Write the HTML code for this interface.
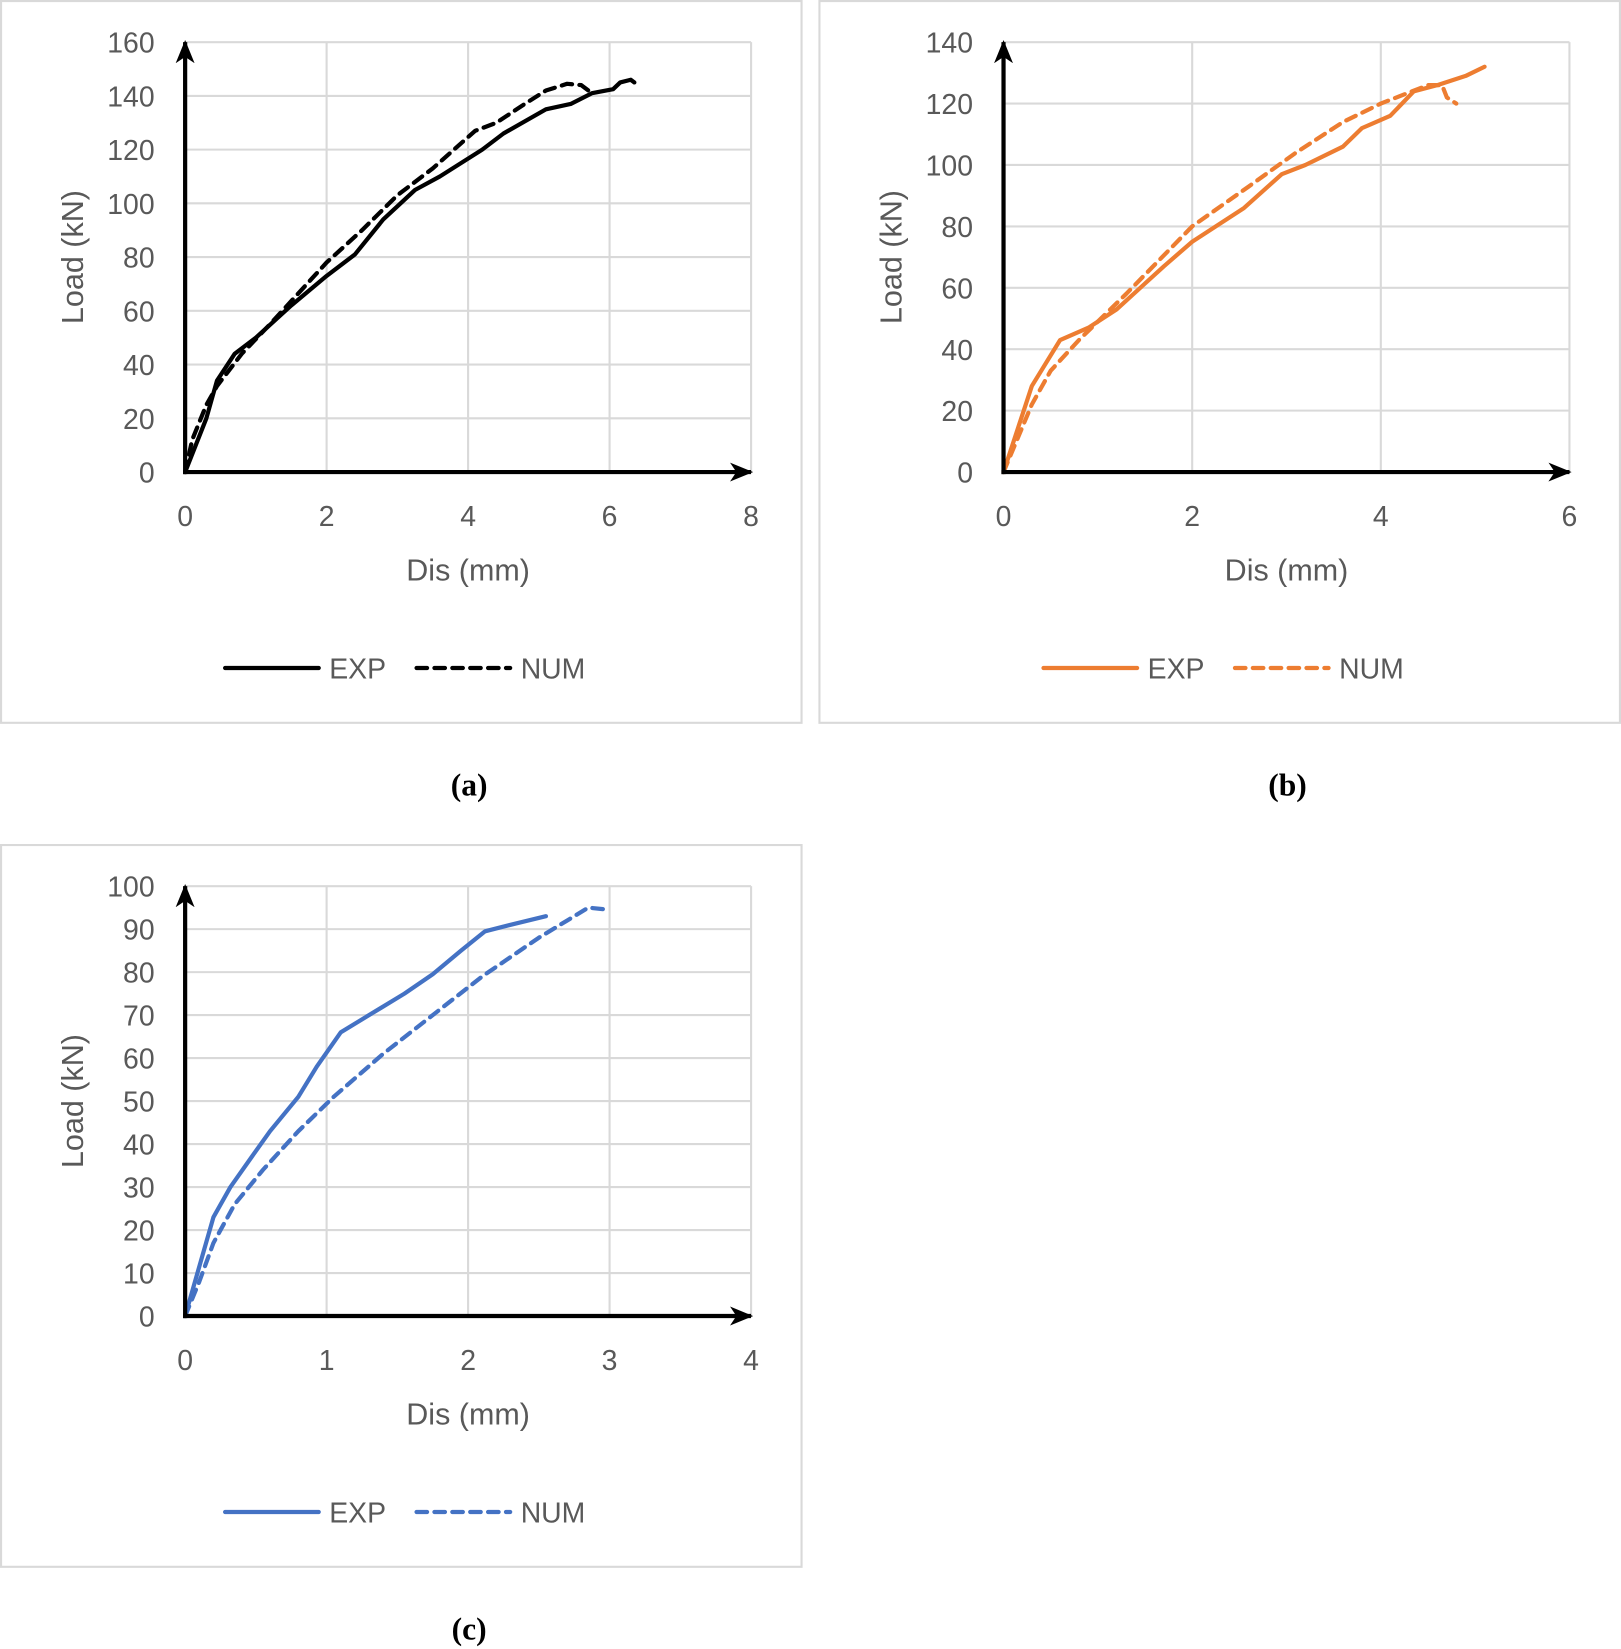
<!DOCTYPE html>
<html><head><meta charset="utf-8"><style>
html,body{margin:0;padding:0;background:#fff}
svg{display:block}
text{font-family:"Liberation Sans",sans-serif}
text.cap{font-family:"Liberation Serif",serif;font-weight:bold}
</style></head><body>
<svg id="fig" width="1621" height="1649" viewBox="0 0 1541 1565" preserveAspectRatio="none">
<defs>
<marker id="arr" markerWidth="22" markerHeight="18" refX="20" refY="9" orient="auto" markerUnits="userSpaceOnUse" viewBox="0 0 22 18"><path d="M0,0 L22,9 L0,18 L6,9 Z" fill="#000"/></marker>
</defs>
</svg>
<script>
const aExpX=[0,0.15,0.3,0.45,0.7,1,1.5,2,2.4,2.8,3.25,3.6,4.2,4.5,5.1,5.45,5.75,6.05,6.15,6.3,6.35];
const aExpY=[0,10,20,34,44,50,62,73,81,94,105,110,120,126,135,137,141,142.5,145,146,145];
const aNumX=[0,0.1,0.3,0.45,0.8,1.2,2,2.5,3,3.5,4.1,4.4,4.8,5.1,5.4,5.6,5.7];
const aNumY=[0,12,25,32,44,55,78,90,103,113,127,130,137,142,144.5,144,142];
const bExpX=[0,0.3,0.6,0.9,1.2,1.7,2,2.55,2.95,3.2,3.6,3.8,4.1,4.35,4.6,4.9,5.1];
const bExpY=[0,28,43,47,53,67,75,86,97,100,106,112,116,124,126,129,132];
const bNumX=[0,0.3,0.5,0.8,1.3,2,2.6,3.1,3.6,4,4.5,4.65,4.7,4.8];
const bNumY=[0,22,33,43,58,80,93,104,114,120,126,126,122,120];
const cExpX=[0,0.2,0.32,0.47,0.6,0.8,0.93,1.1,1.3,1.55,1.75,1.95,2.12,2.3,2.55];
const cExpY=[0,23,30,37,43,51,58,66,70,75,79.5,85,89.5,91,93];
const cNumX=[0,0.1,0.2,0.35,0.55,0.8,1.05,1.4,1.75,2.1,2.5,2.7,2.85,3];
const cNumY=[0,8,17,26,34,43,51,61,70,79,88,92,95,94.5];
const aXTicks=[0,2,4,6,8], aYTicks=[0,20,40,60,80,100,120,140,160];
const bXTicks=[0,2,4,6], bYTicks=[0,20,40,60,80,100,120,140];
const cXTicks=[0,1,2,3,4], cYTicks=[0,10,20,30,40,50,60,70,80,90,100];

const NS="http://www.w3.org/2000/svg";
const svg=document.getElementById('fig');
function mk(tag,attrs,parent,txt){const e=document.createElementNS(NS,tag);for(const k in attrs)e.setAttribute(k,attrs[k]);if(txt!==undefined)e.textContent=txt;(parent||svg).appendChild(e);return e;}

function chart(id,ox,oy,xT,yT,series,color,caption){
  const g=mk('g',{});
  
  
  const box=mk('rect',{x:ox+1,y:oy+1,width:761,height:685,fill:'#fff',stroke:'#d9d9d9','stroke-width':2},g);
  
  
  const x0=ox+176,x1=ox+714,y0=oy+448,y1=oy+40;
  const xmax=xT[xT.length-1],ymax=yT[yT.length-1];
  const sx=v=>x0+(x1-x0)*v/xmax, sy=v=>y0-(y0-y1)*v/ymax;
  xT.forEach(t=>{
    if(t>0){const l=mk('line',{x1:sx(t),x2:sx(t),y1:y0,y2:y1,stroke:'#d9d9d9','stroke-width':2},g);
    
    }
    const tx=mk('text',{x:sx(t),y:y0+51,'text-anchor':'middle','font-size':27,fill:'#595959'},g,String(t));
    
    
  });
  yT.forEach(t=>{
    if(t>0){const l=mk('line',{x1:x0,x2:x1,y1:sy(t),y2:sy(t),stroke:'#d9d9d9','stroke-width':2},g);
    
    }
    const tx=mk('text',{x:x0-29,y:sy(t)+10,'text-anchor':'end','font-size':27,fill:'#595959'},g,String(t));
    
    
  });
  series.forEach(s=>{
    const pts=s.x.map((v,i)=>sx(v)+','+sy(s.y[i])).join(' ');
    const p=mk('polyline',{points:pts,fill:'none',stroke:color,'stroke-width':4,'stroke-linejoin':'round','stroke-linecap':'round','stroke-dasharray':s.dash?'10,7':'none'},g);
    
    
  });
  const ya=mk('line',{x1:x0,y1:y0+2,x2:x0,y2:y1,stroke:'#000','stroke-width':4,'marker-end':'url(#arr)'},g);
  
  
  const xa=mk('line',{x1:x0-2,y1:y0,x2:x1,y2:y0,stroke:'#000','stroke-width':4,'marker-end':'url(#arr)'},g);
  
  
  const xt=mk('text',{x:ox+445,y:oy+551,'text-anchor':'middle','font-size':29,fill:'#595959'},g,'Dis (mm)');
  
  
  const yt=mk('text',{x:0,y:0,'text-anchor':'middle','font-size':29,fill:'#595959',transform:`translate(${ox+79},${oy+244}) rotate(-90)`},g,'Load (kN)');
  
  
  const ly=oy+634;
  const l1=mk('line',{x1:ox+214,x2:ox+303,y1:ly,y2:ly,stroke:color,'stroke-width':4,'stroke-linecap':'round'},g);
  
  
  const lt1=mk('text',{x:ox+313,y:ly+10,'font-size':27,fill:'#595959'},g,'EXP');
  
  
  const l2=mk('line',{x1:ox+396,x2:ox+485,y1:ly,y2:ly,stroke:color,'stroke-width':4,'stroke-linecap':'round','stroke-dasharray':'10,7'},g);
  
  
  const lt2=mk('text',{x:ox+495,y:ly+10,'font-size':27,fill:'#595959'},g,'NUM');
  
  
  const cap=mk('text',{x:ox+446,y:oy+755,'text-anchor':'middle','font-size':30,'class':'cap',fill:'#000'},g,caption);
  
  
}
chart('a',0,0,aXTicks,aYTicks,[{name:'EXP',x:aExpX,y:aExpY},{name:'NUM',x:aNumX,y:aNumY,dash:1}],'#000','(a)');
chart('b',778,0,bXTicks,bYTicks,[{name:'EXP',x:bExpX,y:bExpY},{name:'NUM',x:bNumX,y:bNumY,dash:1}],'#ed7d31','(b)');
chart('c',0,801,cXTicks,cYTicks,[{name:'EXP',x:cExpX,y:cExpY},{name:'NUM',x:cNumX,y:cNumY,dash:1}],'#4472c4','(c)');
</script>
</body></html>
